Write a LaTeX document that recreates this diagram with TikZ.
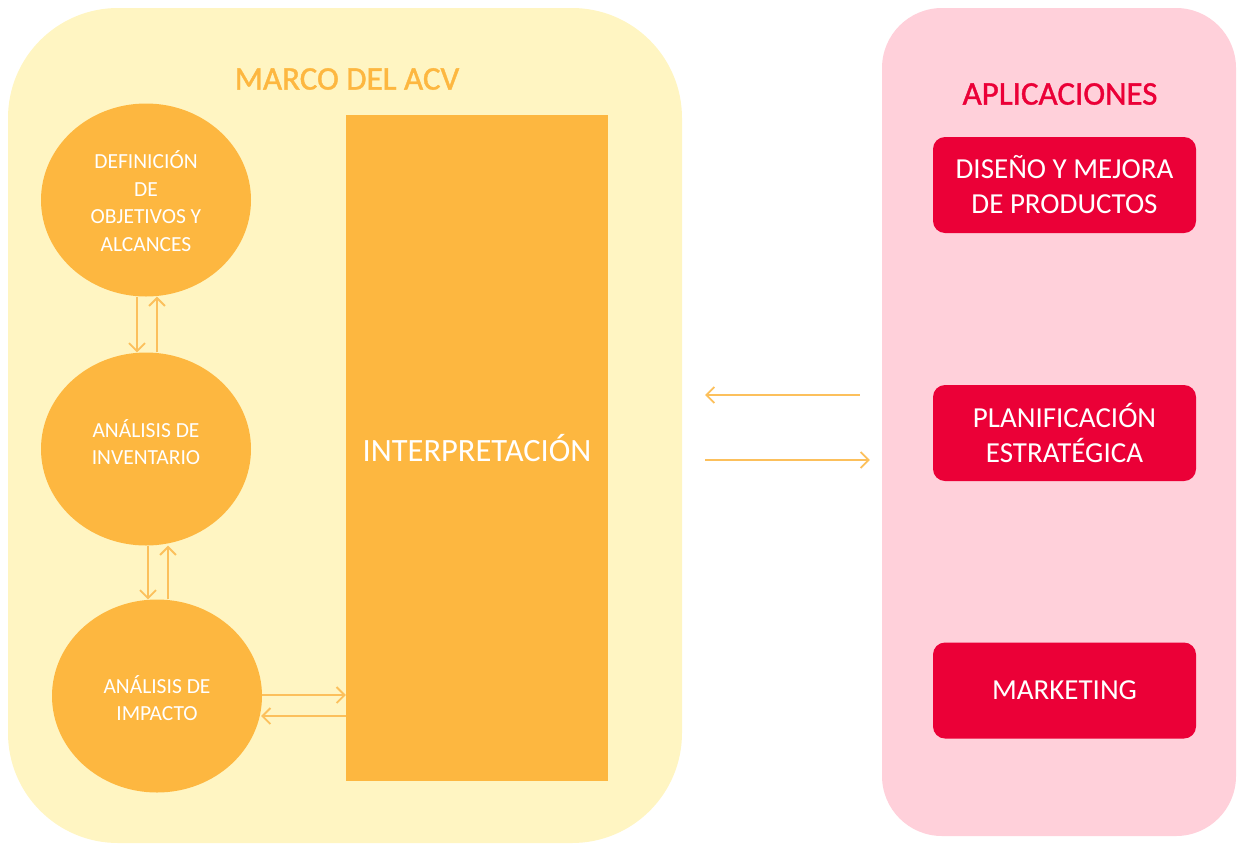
\documentclass[tikz,border=0pt]{standalone}
\usepackage{fontspec}
\setmainfont{Carlito}
\newfontfamily\titlefont[FakeBold=1.2]{Carlito}
\usetikzlibrary{shapes.geometric,arrows.meta,calc}

\definecolor{panelyellow}{HTML}{FFF5C2}
\definecolor{stageorange}{HTML}{FDB740}
\definecolor{arroworange}{HTML}{FCC05C}
\definecolor{panelpink}{HTML}{FFD0DA}
\definecolor{appred}{HTML}{EB0037}

\tikzset{
  panel/.style={rectangle, inner sep=0pt, draw=none},
  stage/.style={ellipse, fill=stageorange, inner sep=0pt,
    minimum width=210pt, minimum height=193pt},
  stagetext/.style={text=white, align=center, inner sep=0pt,
    font=\fontsize{21.5}{27.5}\selectfont},
  interp/.style={rectangle, fill=stageorange, inner sep=0pt,
    minimum width=262pt, minimum height=666pt, text=white,
    font=\fontsize{32.5}{38}\selectfont},
  appbox/.style={rectangle, rounded corners=12pt, fill=appred, inner sep=0pt,
    minimum width=263pt, minimum height=96pt, text=white, align=center,
    font=\fontsize{29}{35}\selectfont},
  paneltitle/.style={font=\titlefont\fontsize{33}{38}\selectfont},
  flow/.style={draw=arroworange, line width=1.8pt,
    -{Straight Barb[length=8pt,width=16pt,line width=1.8pt]}},
}

\begin{document}
\begin{tikzpicture}[x=1pt,y=-1pt]
  \useasboundingbox (0,0) rectangle (1237,844);

  % background panels
  \node[panel, fill=panelyellow, rounded corners=110pt,
        minimum width=674pt, minimum height=835pt] (frame) at (345,425.5) {};
  \node[panel, fill=panelpink, rounded corners=60pt,
        minimum width=354pt, minimum height=828pt] (apps) at (1059,422) {};

  % titles
  \node[paneltitle, text=stageorange] (frametitle) at (347,79) {MARCO DEL ACV};
  \node[paneltitle, text=appred] (appstitle) at (1060,94) {APLICACIONES};

  % LCA stages
  \node[stage] (goal) at (146,200) {};
  \node[stage] (inv) at (146,449) {};
  \node[stage] (imp) at (157,696) {};
  \node[stagetext] (goaltxt) at (146,201) {DEFINICIÓN\\DE\\OBJETIVOS Y\\ALCANCES};
  \node[stagetext] (invtxt) at (146,442) {ANÁLISIS DE\\INVENTARIO};
  \node[stagetext] (imptxt) at (157,698) {ANÁLISIS DE\\IMPACTO};
  \node[interp] (interp) at (477,448) {INTERPRETACIÓN};

  % applications
  \node[appbox] (design) at (1064.5,185) {DISEÑO Y MEJORA\\DE PRODUCTOS};
  \node[appbox] (plan) at (1064.5,433) {PLANIFICACIÓN\\ESTRATÉGICA};
  \node[appbox] (mkt) at (1064.5,690.5) {MARKETING};

  % stage feedback arrows
  \draw[flow] ([xshift=-9pt]goal.south) -- ([xshift=-9pt]inv.north);
  \draw[flow] ([xshift=11pt]inv.north) -- ([xshift=11pt]goal.south);
  \draw[flow] ([xshift=2pt]inv.south) -- ([xshift=-9pt]imp.north);
  \draw[flow] ([xshift=11pt]imp.north) -- ([xshift=22pt]inv.south);
  \coordinate (impout) at ($(imp.east)+(0,-1)$);
  \coordinate (impin) at ($(imp.east)+(-1,20)$);
  \draw[flow] (impout) -- (impout -| interp.west);
  \draw[flow] (impin -| interp.west) -- (impin);

  % exchange between framework and applications
  \coordinate (toframe) at (705,395);
  \coordinate (fromframe) at (705,460);
  \coordinate (appsleft) at ($(apps.west)+(-22,0)$);
  \coordinate (appsin) at ($(apps.west)+(-12,0)$);
  \draw[flow] (appsleft |- toframe) -- (toframe);
  \draw[flow] (fromframe) -- (appsin |- fromframe);
\end{tikzpicture}
\end{document}
